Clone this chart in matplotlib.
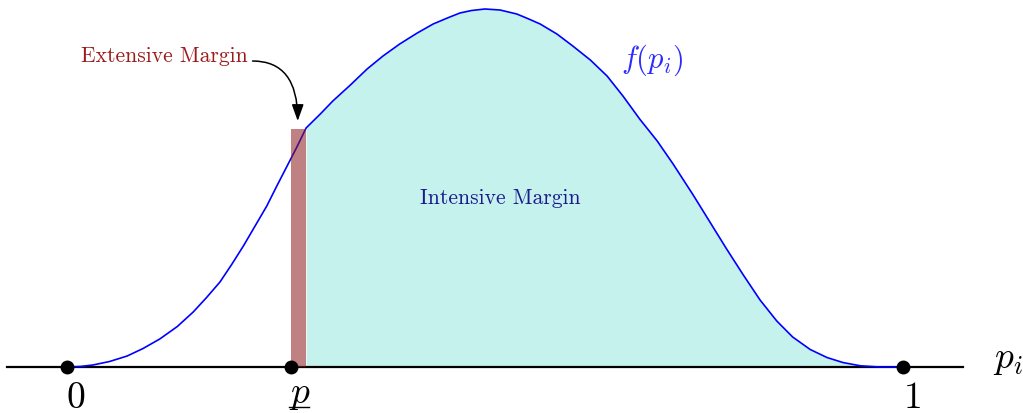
import matplotlib

matplotlib.use("Agg")
import matplotlib.pyplot as plt
import numpy as np

plt.rcParams["mathtext.fontset"] = "cm"

# density curve (x in [0, 1], kink at the cutoff)
curve_x = [0.0, 0.016, 0.031, 0.051, 0.072, 0.091, 0.111, 0.132, 0.151, 0.167,
           0.183, 0.197, 0.211, 0.225, 0.239, 0.251, 0.263, 0.275, 0.286,
           0.303, 0.318, 0.339, 0.359, 0.378, 0.398, 0.419, 0.438, 0.455, 0.470,
           0.484, 0.500, 0.518, 0.538, 0.551, 0.566, 0.586, 0.605, 0.626, 0.646,
           0.665, 0.685, 0.706, 0.725, 0.749, 0.769, 0.789, 0.809, 0.829, 0.849,
           0.868, 0.889, 0.909, 0.928, 0.949, 0.972, 1.0]
curve_y = [0.0, 0.005, 0.02, 0.055, 0.11, 0.185, 0.28, 0.405, 0.55, 0.695,
           0.85, 1.025, 1.21, 1.41, 1.61, 1.81, 2.005, 2.20, 2.39,
           2.53, 2.66, 2.82, 2.98, 3.11, 3.23, 3.34, 3.43, 3.49, 3.54,
           3.565, 3.58, 3.57, 3.53, 3.485, 3.43, 3.33, 3.21, 3.07, 2.91,
           2.71, 2.48, 2.26, 2.03, 1.72, 1.45, 1.18, 0.92, 0.67, 0.46,
           0.30, 0.175, 0.095, 0.045, 0.012, 0.0, 0.0]

cutoff = 0.268          # p underline
cutoff_right = 0.286    # right edge of the extensive-margin bar
cutoff_height = 2.38
points_x = [0.0, cutoff, 1.0]
point_labels = ["$0$", "", "$1$"]

fig = plt.figure(figsize=(10.23, 4.14), dpi=100)
ax = fig.add_axes([0, 0, 1, 1])
ax.set_xlim(-0.0801, 1.1435)
ax.set_ylim(-0.46, 3.68)
ax.axis("off")

cx = np.array(curve_x)
cy = np.array(curve_y)
mask = cx >= cutoff_right
ax.fill_between(cx[mask], 0, cy[mask], color="#c6f2ee", lw=0, zorder=1)
ax.plot(cx, cy, color="blue", lw=1.2, zorder=3, solid_joinstyle="round")
ax.bar(cutoff, cutoff_height, width=cutoff_right - cutoff, align="edge",
       color="#8b1a1a", alpha=0.55, lw=0, zorder=4)

ax.plot([-0.0718, 1.0718], [0, 0], color="black", lw=1.6, zorder=2)
ax.plot(points_x, [0, 0, 0], "o", color="black", ms=9, zorder=5)

for px, lab in zip(points_x, point_labels):
    if lab:
        ax.text(px + 0.01, -0.30, lab, fontsize=27, ha="center", va="center")
ax.text(cutoff + 0.011, -0.26, "$p$", fontsize=27, ha="center", va="center")
ax.plot([cutoff - 0.002, cutoff + 0.022], [-0.40, -0.40], color="black", lw=1.0)

ax.text(1.125, 0.0, "$p_i$", fontsize=27, ha="center", va="baseline")
ax.text(0.70, 3.08, "$f(p_i)$", fontsize=22, color="#2b2bff", ha="center", va="center")

ax.text(0.116, 3.12, "Extensive Margin", family="cmr10", fontsize=15.5,
        color="#9b1b1b", ha="center", va="center")
ax.text(0.518, 1.70, "Intensive Margin", family="cmr10", fontsize=15.5,
        color="#1a1a8c", ha="center", va="center")

ax.annotate("", xy=(0.276, 2.46), xytext=(0.222, 3.06),
            arrowprops=dict(arrowstyle="-|>,head_length=0.5,head_width=0.18",
                            connectionstyle="angle3,angleA=0,angleB=90",
                            color="black", lw=1.1, mutation_scale=20,
                            shrinkA=0, shrinkB=0))

fig.savefig("out.png", dpi=100)
